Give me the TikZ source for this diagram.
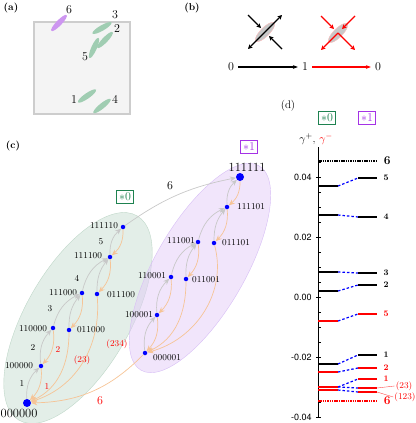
\documentclass[tikz,border=0pt]{standalone}
\usepackage{amsmath}
\usepackage{fontspec}
\newfontfamily\helv{TeX Gyre Heros}
\usepackage{tikz}
\usetikzlibrary{shapes.geometric, arrows.meta, positioning, calc}
\definecolor{sqfill}{RGB}{244,244,244}
\definecolor{sqedge}{RGB}{205,205,205}
\definecolor{ellgreen}{RGB}{160,205,178}
\definecolor{ellpurple}{RGB}{205,150,240}
\definecolor{grnfill}{RGB}{199,221,209}
\definecolor{grnedge}{RGB}{190,215,200}
\definecolor{prpfill}{RGB}{227,203,247}
\definecolor{prpedge}{RGB}{215,190,245}
\definecolor{grnbox}{RGB}{30,130,80}
\definecolor{prpbox}{RGB}{165,50,230}
\definecolor{grayarr}{RGB}{200,200,200}
\definecolor{orangearr}{RGB}{246,196,150}
\definecolor{iconfill}{RGB}{200,200,200}

\begin{document}
\begin{tikzpicture}[x=1pt, y=-1pt,
  bit/.style={circle, fill=blue, inner sep=0pt, minimum size=4.5pt},
  bigbit/.style={bit, minimum size=8pt},
  lbl/.style={font=\fontsize{9}{10}\selectfont, inner sep=1pt},
  num/.style={font=\fontsize{9}{10}\selectfont, inner sep=0pt},
  rnum/.style={num, text=red},
  up/.style={-{Stealth[length=6pt, width=5pt]}, draw=grayarr, line width=0.7pt},
  down/.style={-{Stealth[length=6pt, width=5pt]}, draw=orangearr, line width=0.7pt},
  tag/.style={draw, line width=1.3pt, inner sep=2.3pt, font=\fontsize{13}{13}\selectfont},
  blob/.style={ellipse, inner sep=0pt, minimum width=22pt, minimum height=5.5pt},
  panel/.style={font=\fontsize{10}{10}\selectfont\bfseries},
  big/.style={font=\fontsize{12}{12}\selectfont},
  icarr/.style={-{Stealth[length=4.5pt, width=4.5pt]}, line width=1.3pt},
  level/.style={line width=1.2pt},
  link/.style={blue, line width=1.2pt, dash pattern=on 2.5pt off 2pt},
]
\useasboundingbox (0,0) rectangle (415,423);

% (a) ORIENTATIONS
\node[panel] (pa) at (11,8) {(a)};
\node[draw=sqedge, line width=2pt, fill=sqfill, inner sep=0pt,
      minimum width=96pt, minimum height=92pt] (sq) at (82,68) {};
\node[blob, fill=ellpurple, rotate=46] (e6) at (59,23) {};
\node[blob, fill=ellgreen, rotate=30] (e3) at (102,28) {};
\node[blob, fill=ellgreen, rotate=46] (e2) at (105,40) {};
\node[blob, fill=ellgreen, rotate=66] (e5) at (94,48) {};
\node[blob, fill=ellgreen, rotate=35] (e1) at (87,96) {};
\node[blob, fill=ellgreen, rotate=39] (e4) at (102,106) {};
\node[big] (a6) at (69,10) {6};
\node[big] (a3) at (115,15) {3};
\node[big] (a2) at (117,29) {2};
\node[big] (a5) at (85,57) {5};
\node[big] (a1) at (74,100) {1};
\node[big] (a4) at (115,99) {4};

% (b) FLIP
\node[panel] (pb) at (192,8) {(b)};
\begin{scope}[shift={(265,32)}]
  \node[ellipse, fill=iconfill, draw=red!25, inner sep=0pt,
        minimum width=26pt, minimum height=9pt, rotate=45] (icon0) at (0,0) {};
  \draw[icarr] (0,0) -- (17,-17);
  \draw[icarr] (0,0) -- (-17,17);
  \draw[icarr] (-17,-17) -- (-4,-4);
  \draw[icarr] (17,17) -- (4,4);
\end{scope}
\begin{scope}[shift={(338,33)}, red]
  \node[ellipse, fill=iconfill, draw=red!25, inner sep=0pt,
        minimum width=26pt, minimum height=9pt, rotate=45] (icon1) at (0,0) {};
  \draw[icarr] (0,0) -- (17,17);
  \draw[icarr] (0,0) -- (-17,17);
  \draw[icarr] (-17,-17) -- (-4,-4);
  \draw[icarr] (17,-17) -- (4,-4);
\end{scope}
\node[big, inner sep=4pt] (z0) at (231,67) {0};
\node[big, inner sep=4pt] (z1) at (305,67) {1};
\node[big, inner sep=4pt] (z2) at (378,67) {0};
\draw[-{Stealth[length=5pt]}, line width=1.2pt] (z0) -- (z1);
\draw[-{Stealth[length=5pt]}, line width=1.2pt, red] (z1) -- (z2);

% (c) CONFIGURATIONS
\node[panel] (pc) at (13,146) {(c)};
\node[ellipse, draw=grnedge, fill=grnfill, fill opacity=0.5, inner sep=0pt,
      minimum width=236pt, minimum height=104pt, rotate=60] (zone0) at (78,318) {};
\node[ellipse, draw=prpedge, fill=prpfill, fill opacity=0.5, inner sep=0pt,
      minimum width=236pt, minimum height=90pt, rotate=60] (zone1) at (200,268) {};
\node[tag, draw=grnbox, text=grnbox] (tag0) at (125,197) {$*0$};
\node[tag, draw=prpbox, text=prpbox] (tag1) at (249,147) {$*1$};

\node[bigbit] (s000000) at (27,403) {};
\node[bit] (s100000) at (41,366) {};
\node[bit] (s110000) at (53,328) {};
\node[bit] (s011000) at (69,330) {};
\node[bit] (s111000) at (82,293) {};
\node[bit] (s011100) at (97,294) {};
\node[bit] (s111100) at (110,257) {};
\node[bit] (s111110) at (123,227) {};
\node[bigbit] (s111111) at (240,177) {};
\node[bit] (s111101) at (227,207) {};
\node[bit] (s111001) at (198,242) {};
\node[bit] (s011101) at (214,243) {};
\node[bit] (s110001) at (171,277) {};
\node[bit] (s011001) at (186,279) {};
\node[bit] (s100001) at (157,315) {};
\node[bit] (s000001) at (145,353) {};

\node[lbl, font=\fontsize{12.5}{13}\selectfont] (t000000) at (19,413) {000000};
\node[lbl] (t100000) at (19,366) {100000};
\node[lbl] (t110000) at (33,329) {110000};
\node[lbl] (t011000) at (91,330) {011000};
\node[lbl] (t111000) at (63,293) {111000};
\node[lbl] (t011100) at (121,295) {011100};
\node[lbl] (t111100) at (88,256) {111100};
\node[lbl] (t111110) at (104,226) {111110};
\node[lbl, font=\fontsize{12.5}{13}\selectfont] (t111111) at (247,167) {111111};
\node[lbl] (t111101) at (251,207) {111101};
\node[lbl] (t111001) at (181,241) {111001};
\node[lbl] (t011101) at (236,243) {011101};
\node[lbl] (t110001) at (152,276) {110001};
\node[lbl] (t011001) at (206,280) {011001};
\node[lbl] (t100001) at (139,315) {100001};
\node[lbl] (t000001) at (167,358) {000001};

% upward moves
\draw[up] (s000000) to[bend left=25] (s100000);
\draw[up] (s100000) to[bend left=25] (s110000);
\draw[up] (s110000) to[bend left=25] (s111000);
\draw[up] (s011000) to[bend left=20] (s111000);
\draw[up] (s111000) to[bend left=25] (s111100);
\draw[up] (s011100) to[bend left=20] (s111100);
\draw[up] (s111100) to[bend left=25] (s111110);
\draw[up] (s111110) to[bend left=12] (s111111);
\draw[up] (s000001) to[bend left=25] (s100001);
\draw[up] (s100001) to[bend left=25] (s110001);
\draw[up] (s110001) to[bend left=25] (s111001);
\draw[up] (s011001) to[bend left=20] (s111001);
\draw[up] (s111001) to[bend left=25] (s111101);
\draw[up] (s011101) to[bend left=20] (s111101);
\draw[up] (s111101) to[bend left=25] (s111111);
% downward moves
\draw[down] (s100000) to[bend left=25] (s000000);
\draw[down] (s110000) to[bend left=25] (s100000);
\draw[down] (s111000) to[bend left=25] (s011000);
\draw[down] (s111100) to[bend left=25] (s011100);
\draw[down] (s111110) to[bend left=25] (s111100);
\draw[down] (s011000) to[out=-90, in=25] (s000000);
\draw[down] (s011100) to[out=-85, in=18] (s000000);
\draw[down] (s000001) to[bend left=22] (s000000);
\draw[down] (s100001) to[bend left=25] (s000001);
\draw[down] (s110001) to[bend left=25] (s100001);
\draw[down] (s111001) to[bend left=25] (s011001);
\draw[down] (s111101) to[bend left=25] (s011101);
\draw[down] (s111111) to[bend left=25] (s111101);
\draw[down] (s011001) to[out=-90, in=25] (s000001);
\draw[down] (s011101) to[out=-75, in=15] (s000001);

\node[num] (m1) at (22,383) {1};
\node[num] (m2) at (33,347) {2};
\node[num] (m3) at (50,309) {3};
\node[num] (m4) at (77,278) {4};
\node[num] (m5) at (101,242) {5};
\node[num, big] (m6) at (170,186) {6};
\node[rnum] (r1) at (47,386) {1};
\node[rnum] (r2) at (58,349) {2};
\node[rnum] (r23) at (82,360) {(23)};
\node[rnum] (r234) at (117,344) {(234)};
\node[rnum, big] (r6) at (100,401) {6};

% (d) RATES
\node[font=\fontsize{11}{11}\selectfont] (pd) at (288,106) {(d)};
\node[tag, draw=grnbox, text=grnbox] (tag0d) at (327,118) {$*0$};
\node[tag, draw=prpbox, text=prpbox] (tag1d) at (367,118) {$*1$};
\node[font=\fontsize{11}{11}\selectfont] (gam) at (316,139) {$\gamma^+$, \textcolor{red}{$\gamma^-$}};
\draw[line width=0.8pt] (318,147) -- (318,418);
\foreach \y/\v [count=\i] in {177/0.04, 237/0.02, 297/0.00, 357/-0.02, 417/-0.04}
  \draw[line width=0.6pt] (316,\y) -- (321,\y)
    node[left=3pt, font=\helv\fontsize{9}{9}\selectfont, inner sep=1pt] (tk\i) at (316,\y) {\v};
\foreach \y in {162,192,207,222,252,267,282,312,327,342,372,387,402}
  \draw[line width=0.6pt] (318,\y) -- (320.5,\y);

\draw[level, dash pattern=on 1.5pt off 0.8pt, line width=1.6pt] (318,161) -- (377,161)
  node[right=5pt, font=\fontsize{12}{12}\selectfont\bfseries, inner sep=1pt] (lv6) {6};
\draw[level, red, dash pattern=on 1.5pt off 0.8pt, line width=1.6pt] (318,401) -- (377,401)
  node[right=5pt, font=\fontsize{12}{12}\selectfont\bfseries, inner sep=1pt] (lr6) {6};
\foreach \yl/\yr/\c/\t [count=\i] in {186/178/black/5, 215/217/black/4, 272/273/black/3,
    291/285/black/2, 321/314/red/5, 364/355/black/1, 372/368/red/2, 387/379/red/1} {
  \draw[level, \c] (318,\yl) -- (338,\yl);
  \draw[level, \c] (358,\yr) -- (377,\yr)
    node[right=5pt, font=\fontsize{8.5}{9}\selectfont\bfseries, inner sep=1pt] (lv\i) {\t};
  \draw[link] (338,\yl) -- (358,\yr);
}
\foreach \yl/\yr/\t [count=\i] in {387/388/(23), 390/392/(123)} {
  \draw[level, red] (318,\yl) -- (338,\yl);
  \draw[level, red] (358,\yr) -- (377,\yr) coordinate (pin\i);
  \draw[link] (338,\yl) -- (358,\yr);
}
\node[font=\fontsize{9}{9}\selectfont, text=red, inner sep=1pt] (l23) at (404,386) {(23)};
\node[font=\fontsize{9}{9}\selectfont, text=red, inner sep=1pt] (l123) at (405,397) {(123)};
\draw[red!70, line width=0.4pt] (pin1) -- (l23.west);
\draw[red!70, line width=0.4pt] (pin2) -- (l123.west);
\end{tikzpicture}
\end{document}
